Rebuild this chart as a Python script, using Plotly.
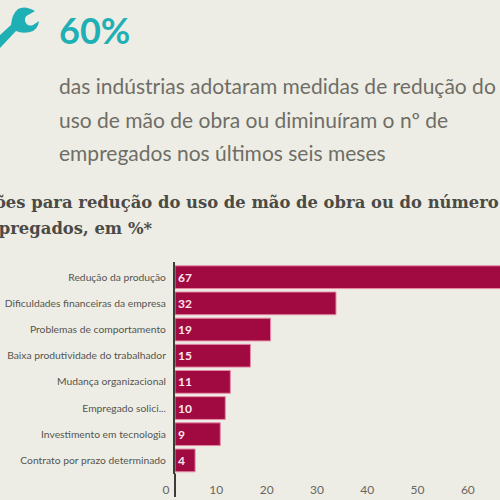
import plotly.graph_objects as go

categorias = ["Redução da produção", "Dificuldades financeiras da empresa", "Problemas de comportamento",
              "Baixa produtividade do trabalhador", "Mudança organizacional", "Empregado solici...",
              "Investimento em tecnologia", "Contrato por prazo determinado"]
valores = [67, 32, 19, 15, 11, 10, 9, 4]
ticks_x = [0, 10, 20, 30, 40, 50, 60]

FUNDO = "#eeede5"
TEAL = "#1fb0b6"
VINHO = "#a10a40"
W = 500


def px(x, y):
    return "%.4f %.4f" % (x / W, 1 - y / W)


fig = go.Figure()
fig.add_trace(go.Bar(x=valores, y=categorias, orientation="h", width=0.87,
                     marker=dict(color=VINHO, line=dict(color="#e58aa8", width=1)),
                     text=valores, textposition="inside", insidetextanchor="start",
                     textangle=0, constraintext="none",
                     textfont=dict(family="Lato", size=12, color="#fbe6ee", weight="bold"),
                     cliponaxis=True, hoverinfo="skip"))

# icone da chave
chave = ("M " + px(0, 35) + " L " + px(11, 25) + " Q " + px(12, 14) + " " + px(18, 9)
         + " Q " + px(25, 5) + " " + px(35, 11) + " L " + px(30, 14) + " Q " + px(24, 16) + " " + px(25, 21)
         + " Q " + px(27, 27) + " " + px(33, 25) + " L " + px(39, 21) + " Q " + px(38, 30) + " " + px(30, 32)
         + " Q " + px(22, 34) + " " + px(16, 31) + " L " + px(0, 48) + " Z")
fig.add_shape(type="path", path=chave, xref="paper", yref="paper", fillcolor=TEAL, line_width=0)
# prolongamento do eixo vertical ate os rotulos
fig.add_shape(type="line", x0=0.35, x1=0.35, y0=0.006, y1=0.053, xref="paper", yref="paper",
              line=dict(color="#3c3c3a", width=2))


def texto(x, y, t, tam, cor, fonte):
    fig.add_annotation(x=x / W, y=1 - y / W, xref="paper", yref="paper", text=t, showarrow=False,
                       xanchor="left", yanchor="middle", font=dict(family=fonte, size=tam, color=cor))


texto(57, 30, "<b>60%</b>", 36, TEAL, "Lato")
texto(57, 85, "das indústrias adotaram medidas de redução do", 21, "#6f6e66", "Lato")
texto(57, 119, "uso de mão de obra ou diminuíram o nº de", 21, "#6f6e66", "Lato")
texto(57, 152, "empregados nos últimos seis meses", 21, "#6f6e66", "Lato")
texto(-41, 202, "<b>Razões para redução do uso de mão de obra ou do número de</b>", 16.4, "#4b4b46", "DejaVu Serif")
texto(-31, 229, "<b>empregados, em %*</b>", 16.4, "#4b4b46", "DejaVu Serif")

fig.update_layout(width=500, height=500, margin=dict(l=0, r=0, t=0, b=0, autoexpand=False),
                  paper_bgcolor=FUNDO, plot_bgcolor=FUNDO, showlegend=False,
                  font=dict(family="Lato", color="#55554f"))
fig.update_xaxes(domain=[0.35, 1], range=[0, 64.6], tickvals=ticks_x, showgrid=False, zeroline=False,
                 ticks="outside", ticklen=5, tickcolor="rgba(0,0,0,0)", ticklabelshift=-9, automargin=False,
                 tickfont=dict(size=12, color="#66665f"))
fig.update_yaxes(domain=[0.053, 0.476], range=[7.5, -0.58], showgrid=False, zeroline=False, automargin=False,
                 showline=True, linecolor="#3c3c3a", linewidth=2, ticks="", ticklabelstandoff=5,
                 tickfont=dict(size=10.3, color="#55554f"))

fig.write_html("out.html", config={"displayModeBar": False},
               post_script="document.body.style.margin='0';document.body.style.overflow='hidden';")
